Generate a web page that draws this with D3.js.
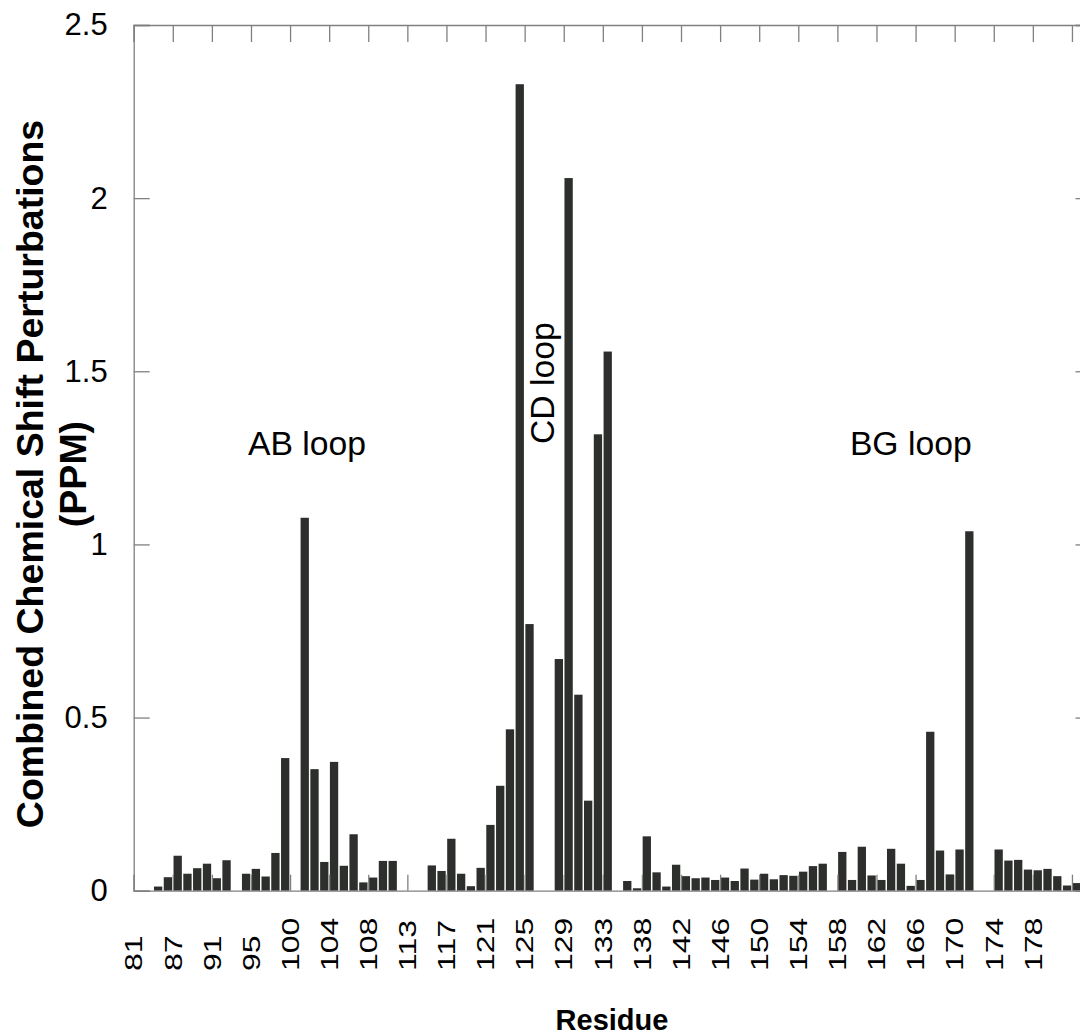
<!DOCTYPE html>
<html>
<head>
<meta charset="utf-8">
<script src="https://cdn.jsdelivr.net/npm/d3@7"></script>
<style>
  body { margin: 0; background: #fff; }
  text { font-family: "Liberation Sans", Arial, sans-serif; fill: #000; }
</style>
</head>
<body>
<div id="chart"></div>
<script>
// residues on the category axis (one bar slot each)
var residues = [
  81, 83, 84, 85, 87, 88, 89, 90, 91, 92, 93, 94, 95, 96, 97, 98,
  100, 101, 102, 103, 104, 105, 106, 107, 108, 109, 110, 111,
  113, 114, 115, 116, 117, 118, 119, 120, 121, 122, 123, 124,
  125, 126, 127, 128, 129, 130, 131, 132, 133, 134, 135, 136,
  138, 139, 140, 141, 142, 143, 144, 145, 146, 147, 148, 149,
  150, 151, 152, 153, 154, 155, 156, 157, 158, 159, 160, 161,
  162, 163, 164, 165, 166, 167, 168, 169, 170, 171, 172, 173,
  174, 175, 176, 177, 178, 179, 180, 181, 182, 183
];

// combined chemical shift perturbation (ppm), null = no data
var shifts = [
  null, null, 0.012, 0.039, 0.101, 0.049, 0.065, 0.078, 0.036, 0.088, null, 0.049,
  0.063, 0.041, 0.109, 0.383, null, 1.077, 0.351, 0.083, 0.372, 0.072, 0.163, 0.024,
  0.038, 0.086, 0.086, null, null, null, 0.073, 0.057, 0.150, 0.049, 0.013, 0.066,
  0.190, 0.303, 0.466, 2.329, 0.770, null, null, 0.669, 2.058, 0.566, 0.260, 1.318,
  1.557, null, 0.028, 0.007, 0.157, 0.053, 0.012, 0.075, 0.042, 0.036, 0.038, 0.031,
  0.038, 0.028, 0.064, 0.032, 0.049, 0.033, 0.045, 0.043, 0.055, 0.071, 0.078, null,
  0.112, 0.031, 0.127, 0.044, 0.031, 0.121, 0.078, 0.014, 0.031, 0.459, 0.116, 0.047,
  0.119, 1.038, null, null, 0.119, 0.087, 0.089, 0.061, 0.059, 0.063, 0.042, 0.015,
  0.022, null
];

var xTickLabels = ["81", "87", "91", "95", "100", "104", "108", "113", "117", "121",
  "125", "129", "133", "138", "142", "146", "150", "154", "158", "162", "166", "170",
  "174", "178"];
var yTicks = [0, 0.5, 1, 1.5, 2, 2.5];

var loops = [
  { text: "AB loop", res: 94, val: 1.257, dx: 6, vertical: false },
  { text: "CD loop", res: 128, val: 1.29, dx: -1, vertical: true },
  { text: "BG loop", res: 159, val: 1.257, dx: 2, vertical: false }
];

// set the dimensions of the plot frame
var W = 1080, H = 1036;
var frame = { left: 133.7, right: 1091.5, top: 25, bottom: 890.7 };
var axisColor = "#808080";

var svg = d3.select("#chart").append("svg")
    .attr("width", W)
    .attr("height", H);

svg.append("rect").attr("width", W).attr("height", H).attr("fill", "#fff");

// set the ranges
var x = d3.scaleBand()
    .domain(residues)
    .range([frame.left, frame.right])
    .paddingInner(0.15)
    .paddingOuter(0.075);
// category boundaries (index -> pixel), used for the ticks
var bx = d3.scaleLinear().domain([0, residues.length]).range([frame.left, frame.right]);
var y = d3.scaleLinear().domain([0, 2.5]).range([frame.bottom, frame.top]);

var data = residues.map(function(r, i) { return { res: r, val: shifts[i] }; })
    .filter(function(d) { return d.val !== null; });

// bars
svg.append("g").selectAll("rect")
    .data(data)
    .enter().append("rect")
    .attr("x", function(d) { return x(d.res); })
    .attr("width", x.bandwidth())
    .attr("y", function(d) { return y(d.val); })
    .attr("height", function(d) { return y(0) - y(d.val); })
    .attr("fill", "#2d2f2c");

var tickIdx = d3.range(0, residues.length, 4);

// top and bottom axes, ticks pointing inside
var gTop = svg.append("g")
    .attr("transform", "translate(0," + frame.top + ")")
    .call(d3.axisTop(bx).tickValues(tickIdx).tickSize(-17).tickFormat(""));
var gBot = svg.append("g")
    .attr("transform", "translate(0," + frame.bottom + ")")
    .call(d3.axisBottom(bx).tickValues(tickIdx).tickSize(-16).tickFormat(""));

// left and right axes
var gLeft = svg.append("g")
    .attr("transform", "translate(" + frame.left + ",0)")
    .call(d3.axisLeft(y).tickValues(yTicks).tickSize(-16).tickPadding(26)
        .tickFormat(d3.format("~g")));
var gRight = svg.append("g")
    .attr("transform", "translate(" + frame.right + ",0)")
    .call(d3.axisRight(y).tickValues(yTicks).tickSize(-16).tickFormat(""));

[gTop, gBot, gLeft, gRight].forEach(function(g) {
    g.selectAll(".domain").attr("stroke", axisColor).attr("stroke-width", 1.3);
    g.selectAll(".tick line").attr("stroke", axisColor).attr("stroke-width", 1.3);
});
gLeft.selectAll(".tick text")
    .attr("font-size", 31)
    .attr("font-family", "Liberation Sans, Arial, sans-serif")
    .attr("fill", "#000");

// x tick labels, rotated and narrow
svg.append("g").selectAll("text")
    .data(xTickLabels)
    .enter().append("text")
    .attr("transform", function(d) {
        var i = residues.indexOf(+d);
        return "translate(" + bx(i) + ",971) rotate(-90) scale(1,0.76)";
    })
    .attr("dy", "0.36em")
    .attr("font-size", 32)
    .text(function(d) { return d; });

// loop annotations
svg.append("g").selectAll("text")
    .data(loops)
    .enter().append("text")
    .attr("transform", function(d) {
        var px = x(d.res) + d.dx, py = y(d.val);
        return "translate(" + px + "," + py + ")" + (d.vertical ? " rotate(-90)" : "");
    })
    .attr("font-size", 33.7)
    .text(function(d) { return d.text; });

// axis titles
var yTitle = svg.append("text")
    .attr("transform", "translate(0,474) rotate(-90)")
    .attr("text-anchor", "middle")
    .attr("font-weight", "bold")
    .attr("font-size", 37.5);
yTitle.append("tspan").attr("x", 0).attr("y", 43).text("Combined Chemical Shift Perturbations");
yTitle.append("tspan").attr("x", 0).attr("y", 86).text("(PPM)");

svg.append("text")
    .attr("x", 612)
    .attr("y", 1030)
    .attr("text-anchor", "middle")
    .attr("font-weight", "bold")
    .attr("font-size", 29)
    .text("Residue");
</script>
</body>
</html>
